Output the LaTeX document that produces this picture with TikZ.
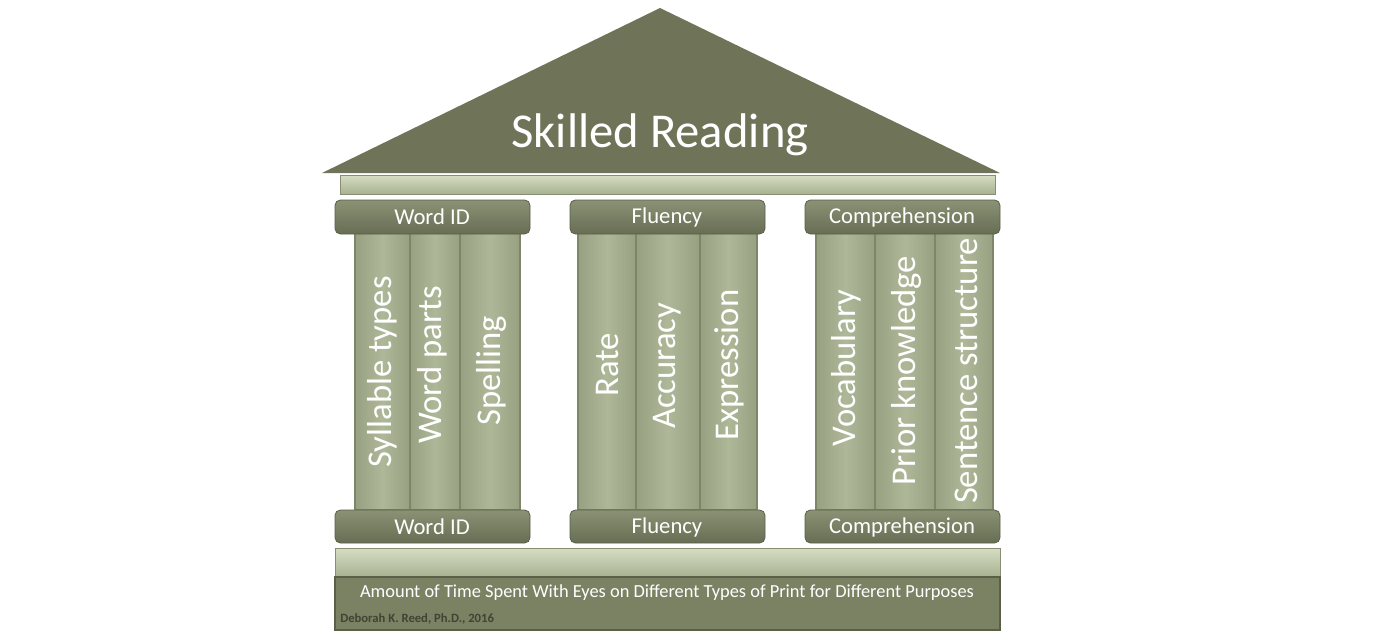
\documentclass[tikz,border=0pt]{standalone}
\usepackage{fontspec}
\setmainfont{Carlito}
\usepackage{tikz}

\definecolor{roofc}{HTML}{6F7458}
\definecolor{capc}{HTML}{737A5D}
\definecolor{capl}{HTML}{8A9174}
\definecolor{shaftd}{HTML}{97A181}
\definecolor{shaftl}{HTML}{AEB898}
\definecolor{flutec}{HTML}{7D8668}
\definecolor{bandl}{HTML}{D6DDC4}
\definecolor{bandd}{HTML}{A8B191}
\definecolor{basec}{HTML}{7A8263}
\definecolor{edgec}{HTML}{586048}
\definecolor{signc}{HTML}{3F4433}

\tikzset{
  capital/.style={rounded corners=4, top color=capl, bottom color=capc!90!black, draw=edgec, line width=0.6},
  band/.style={top color=bandl, bottom color=bandd, draw=bandd!80!black, line width=0.5},
  flute/.style={left color=shaftd, right color=shaftd, middle color=shaftl, draw=flutec, line width=0.8},
  captext/.style={text=white, font=\fontsize{17}{17}\selectfont},
  shafttext/.style={text=white, rotate=90, font=\fontsize{26}{26}\selectfont}
}

\begin{document}
\begin{tikzpicture}[x=0.75pt, y=-0.75pt]
\useasboundingbox (0,0) rectangle (1400,643);

% roof
\fill[roofc] (322,173) -- (660,8) -- (1000,173) -- cycle;
\node[text=white, font=\fontsize{36.5}{36.5}\selectfont] (title) at (660,135) {Skilled Reading};

% entablature
\draw[band] (340,175) rectangle (995,194);

% shafts
\draw[flute] (355,233) rectangle (410,510);
\draw[flute] (410,233) rectangle (460,510);
\draw[flute] (460,233) rectangle (520,510);
\draw[flute] (578,233) rectangle (636,510);
\draw[flute] (636,233) rectangle (700,510);
\draw[flute] (700,233) rectangle (757,510);
\draw[flute] (816,233) rectangle (875,510);
\draw[flute] (875,233) rectangle (935,510);
\draw[flute] (935,233) rectangle (993,510);

% capitals
\draw[capital] (335,200) rectangle (530,234);
\draw[capital] (570,200) rectangle (765,234);
\draw[capital] (805,200) rectangle (1000,234);
\node[captext] (widtop) at (432,217) {Word ID};
\node[captext] (flutop) at (667,217) {Fluency};
\node[captext] (comtop) at (902,217) {Comprehension};

% bases
\draw[capital] (335,510) rectangle (530,543);
\draw[capital] (570,510) rectangle (765,543);
\draw[capital] (805,510) rectangle (1000,543);
\node[captext] (widbot) at (432,527) {Word ID};
\node[captext] (flubot) at (667,527) {Fluency};
\node[captext] (combot) at (902,527) {Comprehension};

% column texts
\node[shafttext] (syl) at (382,372) {Syllable types};
\node[shafttext] (wpa) at (432,365) {Word parts};
\node[shafttext] (spe) at (491,371) {Spelling};
\node[shafttext] (rat) at (607,365) {Rate};
\node[shafttext] (acc) at (667,366) {Accuracy};
\node[shafttext] (exp) at (729,365) {Expression};
\node[shafttext] (voc) at (846,368) {Vocabulary};
\node[shafttext] (pri) at (906,371) {Prior knowledge};
\node[shafttext] (sen) at (966,371) {Sentence structure};

% stylobate
\draw[band] (335,548) rectangle (1000,577);

% foundation
\draw[fill=basec, draw=edgec, line width=1] (335,577) rectangle (1000,630);
\node[text=white, font=\fontsize{13.8}{13.8}\selectfont] (amount) at (667,593) {Amount of Time Spent With Eyes on Different Types of Print for Different Purposes};
\node[anchor=west, text=signc, font=\bfseries\fontsize{9.5}{9.5}\selectfont, inner sep=0] (sign) at (340,619) {Deborah K. Reed, Ph.D., 2016};

\end{tikzpicture}
\end{document}
